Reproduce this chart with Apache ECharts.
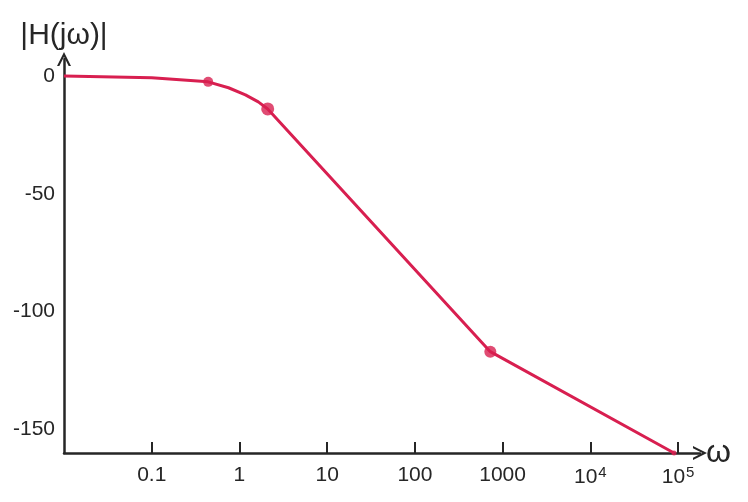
<!DOCTYPE html>
<html>
<head>
<meta charset="utf-8">
<script src="https://cdn.jsdelivr.net/npm/echarts@6/dist/echarts.min.js"></script>
<style>html,body{margin:0;padding:0;background:#fff}#c{width:748px;height:502px}</style>
</head>
<body>
<div id="c"></div>
<script>
// Frequency (rad/s) and magnitude (dB)
var omega = [0.01, 0.1, 0.44, 0.75, 1.17, 1.64, 2.1, 724, 90000];
var magnitude = [0, -0.8, -2.5, -5, -8, -11, -14, -117, -160];
// Highlighted points (dots)
var dotOmega = [0.44, 2.1, 724, 90000];
var dotMag = [-2.5, -14, -117, -160];
var dotSize = [10, 13, 12, 5];
// Axis ticks / labels
var xTicks = [0.1, 1, 10, 100, 1000, 10000, 100000];
var xTickLabels = ['0.1', '1', '10', '100', '1000', '10{s|4}', '10{s|5}'];
var yTicks = [0, -50, -100, -150];

var ink = '#262626';
var red = '#d81f50';
var font = 'Liberation Sans';
var chevron = 'path://M0,12 L6,0 L12,12 L10,12 L6,4 L2,12 Z';

var chart = echarts.init(document.getElementById('c'), null, {renderer: 'canvas'});
chart.setOption({
  animation: false,
  backgroundColor: '#ffffff',
  grid: {left: 64, right: 48, top: 59, bottom: 49},
  xAxis: {
    type: 'log', logBase: 10, min: 0.01, max: 177828,
    name: '\u03c9', nameLocation: 'end', nameGap: 6,
    nameTextStyle: {fontSize: 32, color: ink, fontFamily: font, verticalAlign: 'middle'},
    axisLine: {onZero: false, lineStyle: {color: ink, width: 2.5}, symbol: ['none', chevron], symbolSize: [16, 14]},
    axisTick: {show: true, inside: true, length: 11, lineStyle: {color: ink, width: 2}, customValues: xTicks},
    axisLabel: {
      customValues: xTicks, margin: 12, color: ink, fontSize: 21, fontFamily: font,
      rich: {s: {fontSize: 15, color: ink, fontFamily: font, padding: [0, 0, 10, 1]}},
      formatter: function (v) {
        for (var i = 0; i < xTicks.length; i++) {
          if (Math.abs(Math.log10(v) - Math.log10(xTicks[i])) < 1e-6) return xTickLabels[i];
        }
        return '';
      }
    },
    splitLine: {show: false}, minorTick: {show: false}
  },
  yAxis: {
    type: 'value', min: -160, max: 7.2,
    name: '|H(j\u03c9)|', nameLocation: 'end', nameGap: 8,
    nameTextStyle: {fontSize: 30, color: ink, fontFamily: font},
    axisLine: {show: true, onZero: false, lineStyle: {color: ink, width: 2.5}, symbol: ['none', chevron], symbolSize: [16, 14]},
    axisTick: {show: false},
    axisLabel: {customValues: yTicks, margin: 9, color: ink, fontSize: 21, fontFamily: font},
    splitLine: {show: false}
  },
  series: [
    {
      type: 'line',
      data: omega.map(function (w, i) { return [w, magnitude[i]]; }),
      showSymbol: false, symbol: 'none',
      lineStyle: {color: red, width: 3},
      z: 3
    },
    {
      type: 'scatter',
      data: dotOmega.map(function (w, i) { return {value: [w, dotMag[i]], symbolSize: dotSize[i]}; }),
      itemStyle: {color: red},
      z: 4
    }
  ]
});
</script>
</body>
</html>
